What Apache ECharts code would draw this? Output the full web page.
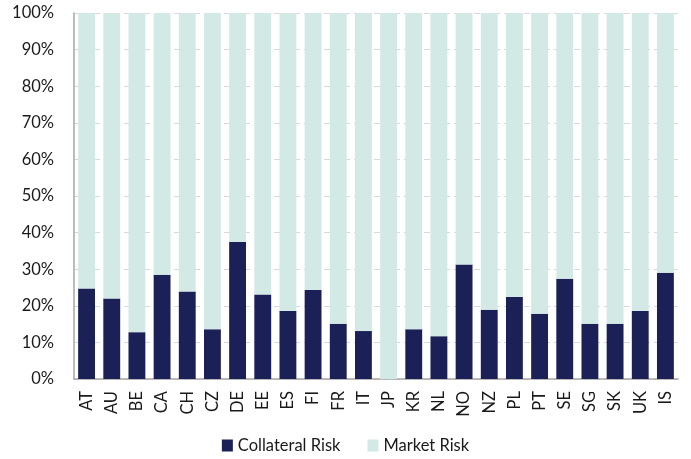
<!DOCTYPE html>
<html>
<head>
<meta charset="utf-8">
<script src="https://cdn.jsdelivr.net/npm/echarts@6/dist/echarts.min.js"></script>
<style>
  html, body { margin: 0; padding: 0; background: #fff; }
  #chart { width: 691px; height: 459px; }
</style>
</head>
<body>
<div id="chart"></div>
<script>
var countries = ['AT', 'AU', 'BE', 'CA', 'CH', 'CZ', 'DE', 'EE', 'ES', 'FI', 'FR', 'IT',
                 'JP', 'KR', 'NL', 'NO', 'NZ', 'PL', 'PT', 'SE', 'SG', 'SK', 'UK', 'IS'];
var collateralRisk = [24.7, 22.0, 12.8, 28.5, 23.9, 13.6, 37.4, 23.1, 18.6, 24.3, 15.1, 13.1,
                      0, 13.6, 11.7, 31.3, 18.9, 22.4, 17.8, 27.4, 15.1, 15.1, 18.6, 29.0];
var marketRisk = [75.3, 78.0, 87.2, 71.5, 76.1, 86.4, 62.6, 76.9, 81.4, 75.7, 84.9, 86.9,
                  100, 86.4, 88.3, 68.7, 81.1, 77.6, 82.2, 72.6, 84.9, 84.9, 81.4, 71.0];

var chart = echarts.init(document.getElementById('chart'));
var font = 'Lato, "Open Sans", sans-serif';
var option = {
    animation: false,
    grid: {
        left: 74,
        right: 13,
        top: 13,
        bottom: 80
    },
    legend: {
        bottom: 0,
        left: 'center',
        itemWidth: 11,
        itemHeight: 12,
        itemGap: 27,
        icon: 'rect',
        textStyle: { fontFamily: font, fontSize: 16.5, color: '#1a1a1a' },
        data: ['Collateral Risk', 'Market Risk']
    },
    xAxis: {
        type: 'category',
        data: countries,
        axisLine: { lineStyle: { color: '#a6a6a6', width: 1.5 } },
        axisTick: { show: false },
        axisLabel: {
            rotate: 90,
            margin: 12,
            fontFamily: font,
            fontSize: 16.5,
            color: '#1a1a1a'
        }
    },
    yAxis: {
        type: 'value',
        min: 0,
        max: 100,
        interval: 10,
        axisLine: { show: true, lineStyle: { color: '#a6a6a6', width: 1.5 } },
        axisTick: { show: false },
        axisLabel: {
            formatter: '{value}%',
            margin: 20,
            fontFamily: font,
            fontSize: 16.5,
            color: '#1a1a1a'
        },
        splitLine: { lineStyle: { color: '#d9d9d9', type: [6, 4] } }
    },
    series: [
        {
            name: 'Collateral Risk',
            type: 'bar',
            stack: 'total',
            barCategoryGap: '33%',
            itemStyle: { color: '#1b2157' },
            data: collateralRisk
        },
        {
            name: 'Market Risk',
            type: 'bar',
            stack: 'total',
            barCategoryGap: '33%',
            itemStyle: { color: '#d3e9e5' },
            data: marketRisk
        }
    ]
};
chart.setOption(option);
window.onresize = function(){
    chart.resize();
}
</script>
</body>
</html>
